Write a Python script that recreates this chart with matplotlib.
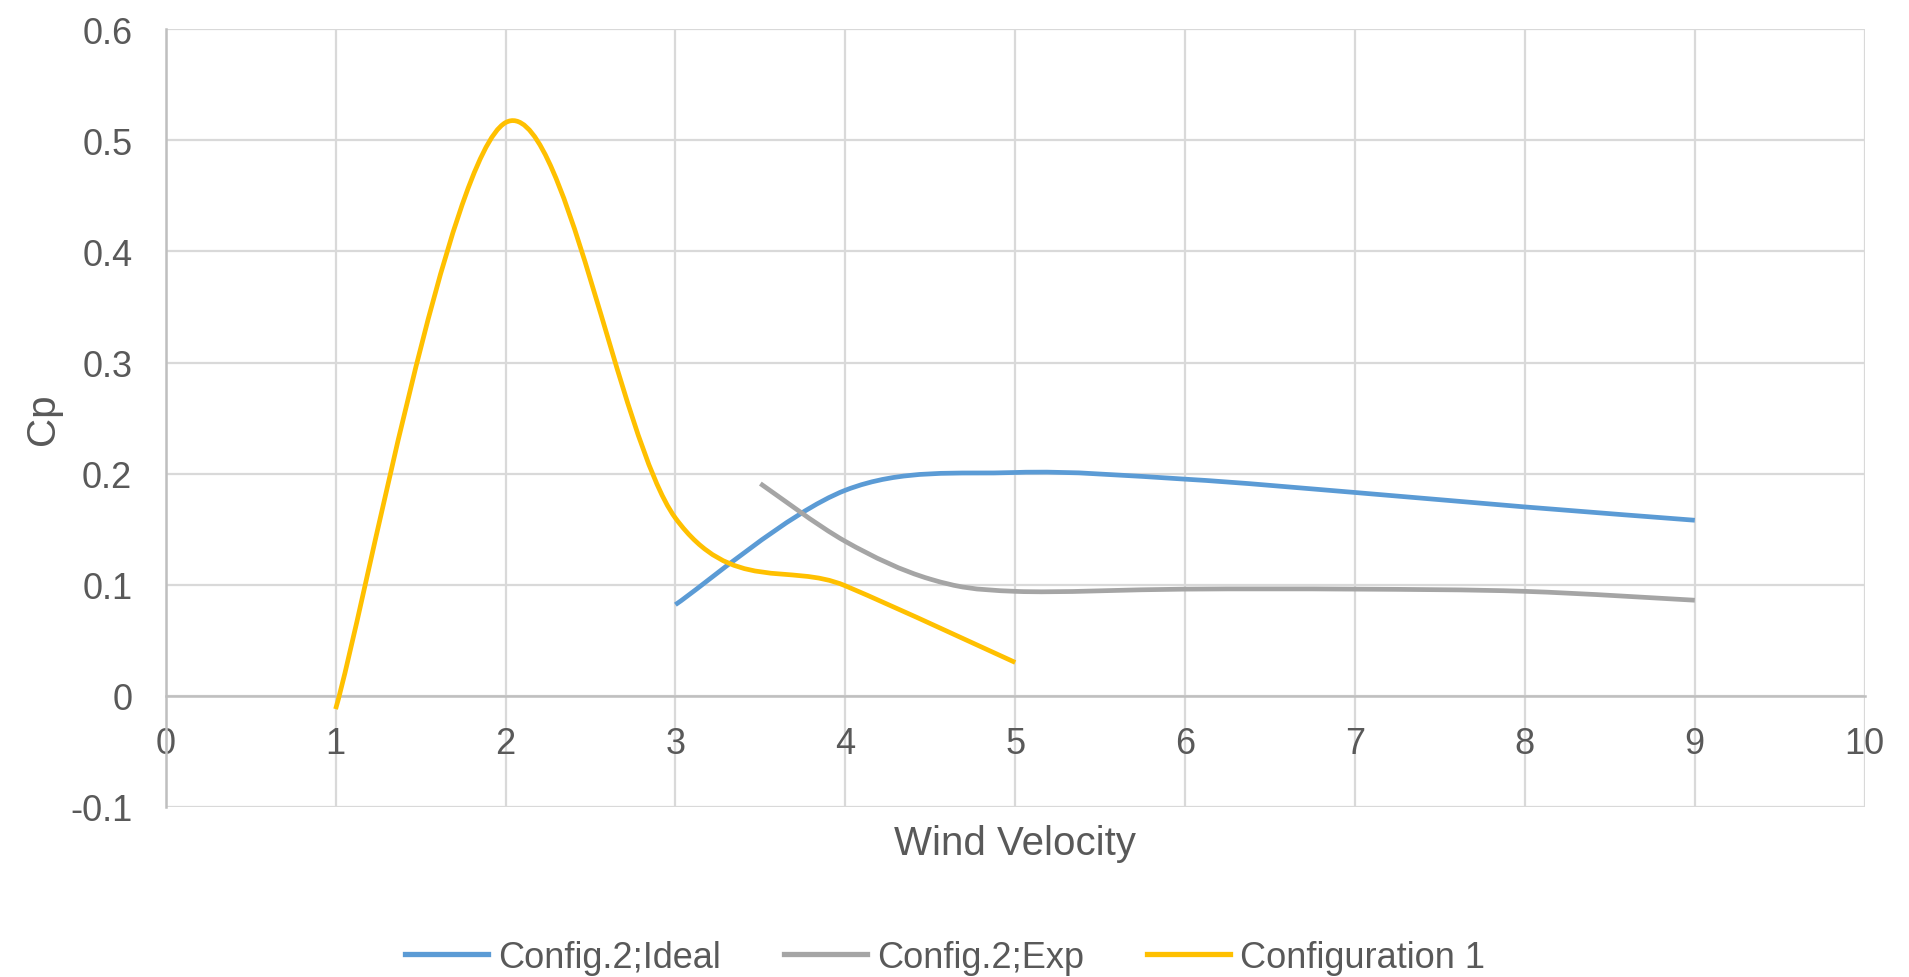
import numpy as np
import matplotlib
matplotlib.use("Agg")
import matplotlib.pyplot as plt
from matplotlib.path import Path
from matplotlib.patches import PathPatch
from matplotlib.lines import Line2D

plt.rcParams['font.family'] = ['Liberation Sans', 'DejaVu Sans']

# Cp vs wind velocity
ideal_x = [3, 4, 5, 6, 7, 8, 9]
ideal_cp = [0.082, 0.185, 0.201, 0.195, 0.183, 0.170, 0.158]

exp_x = [3.5, 4, 4.5, 5, 6, 7, 8, 9]
exp_cp = [0.191, 0.139, 0.105, 0.094, 0.096, 0.096, 0.094, 0.086]

conf1_x = [1, 2, 3, 4, 5]
conf1_cp = [-0.012, 0.516, 0.160, 0.099, 0.030]

series = [
    ("Config.2;Ideal", ideal_x, ideal_cp, "#5B9BD5"),
    ("Config.2;Exp", exp_x, exp_cp, "#A5A5A5"),
    ("Configuration 1", conf1_x, conf1_cp, "#FFC000"),
]

TEXT = "#595959"
GRID = "#D9D9D9"
AXIS = "#BFBFBF"


def smooth_path(xs, ys):
    # excel-style smoothed line: cubic bezier through each point,
    # control points from neighbouring points (catmull-rom, 1/6)
    p = np.column_stack([xs, ys]).astype(float)
    n = len(p)
    tang = np.zeros_like(p)
    for i in range(n):
        a = p[max(i - 1, 0)]
        b = p[min(i + 1, n - 1)]
        tang[i] = (b - a) / 6.0
    verts = [tuple(p[0])]
    codes = [Path.MOVETO]
    for i in range(n - 1):
        verts += [tuple(p[i] + tang[i]), tuple(p[i + 1] - tang[i + 1]), tuple(p[i + 1])]
        codes += [Path.CURVE4] * 3
    return Path(verts, codes)


fig = plt.figure(figsize=(19.09, 9.78), dpi=100)
ax = fig.add_axes([0.0868, 0.174, 0.890, 0.795])

handles = []
for name, xs, ys, col in series:
    patch = PathPatch(smooth_path(xs, ys), facecolor="none", edgecolor=col,
                      lw=3.4, capstyle="butt", joinstyle="round", zorder=3)
    ax.add_patch(patch)
    handles.append(Line2D([], [], color=col, lw=3.8, label=name))

ax.set_xlim(0, 10)
ax.set_ylim(-0.1, 0.6)
ax.set_xticks(range(0, 11))
ax.set_yticks(np.arange(-0.1, 0.61, 0.1))
ax.set_yticklabels(["-0.1", "0", "0.1", "0.2", "0.3", "0.4", "0.5", "0.6"])
ax.grid(True, color=GRID, lw=1.6)
ax.set_axisbelow(True)

for s in ["top", "right"]:
    ax.spines[s].set_visible(False)
ax.spines["bottom"].set_position(("data", 0))
for s in ["bottom", "left"]:
    ax.spines[s].set_color(AXIS)
    ax.spines[s].set_linewidth(1.8)
    ax.spines[s].set_zorder(2)

ax.tick_params(axis="both", length=0, colors=TEXT, labelsize=26)
ax.tick_params(axis="x", pad=22)
ax.tick_params(axis="y", pad=24)

ax.set_xlabel("Wind Velocity", fontsize=29, color=TEXT)
ax.xaxis.set_label_coords(0.5, -0.022)
ax.set_ylabel("Cp", fontsize=29, color=TEXT)
ax.yaxis.set_label_coords(-0.061, 0.5)

fig.legend(handles=handles, loc="center", bbox_to_anchor=(0.495, 0.02),
           ncol=3, frameon=False, fontsize=26, labelcolor=TEXT,
           handlelength=2.3, handletextpad=0.27, columnspacing=1.75)

fig.savefig("out.png", dpi=100, facecolor="white")
